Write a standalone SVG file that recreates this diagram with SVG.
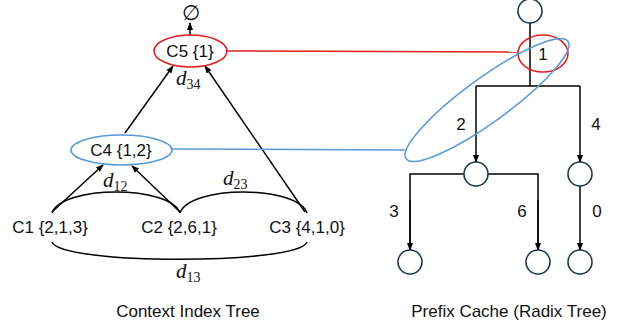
<svg xmlns="http://www.w3.org/2000/svg" width="622" height="326" viewBox="0 0 622 326">
<style>
.t{font-family:"Liberation Sans",Arial,sans-serif;font-size:17px;fill:#111;text-anchor:middle}
.m{font-family:"Liberation Serif","DejaVu Serif",serif;font-style:italic;font-size:21px;fill:#111}
.s{font-size:14px;font-style:normal}
.ln{stroke:#000;stroke-width:1.5;fill:none}
.arr{stroke:#000;stroke-width:1.5;fill:none;marker-end:url(#ah)}
.cir{fill:#fff;stroke:#17394d;stroke-width:1.6}
</style>
<defs>
<marker id="ah" markerUnits="userSpaceOnUse" markerWidth="8" markerHeight="8" viewBox="0 0 8 8" refX="7" refY="4" orient="auto">
<path d="M0,1 L8,4 L0,7 Z" fill="#000"/>
</marker>
</defs>
<rect width="622" height="326" fill="#fff"/>
<g id="connectors">
<line class="arr" x1="190" y1="35" x2="190" y2="23"/>
<line class="arr" x1="125" y1="133" x2="173" y2="66"/>
<line class="arr" x1="305" y1="212" x2="205" y2="66"/>
<line class="arr" x1="52" y1="212" x2="103" y2="165"/>
<line class="arr" x1="180" y1="212" x2="132" y2="166"/>
<path class="ln" d="M52,213 C62,185 170,185 180,213"/>
<path class="ln" d="M180,213 C190,185 297,185 307,213"/>
<path class="ln" d="M52,242 C60,265 299,265 307,242"/>
<line x1="227" y1="51" x2="518" y2="52" stroke="#e31d1d" stroke-width="1.5"/>
<line x1="172" y1="149" x2="405" y2="150" stroke="#5b9bd5" stroke-width="1.5"/>
<line class="ln" x1="530" y1="23" x2="530" y2="86"/>
<polyline class="ln" points="476,86 580,86"/>
<line class="arr" x1="476" y1="86" x2="476" y2="162"/>
<line class="arr" x1="580" y1="86" x2="580" y2="162"/>
<polyline class="ln" points="464,174 410,174 410,250"/>
<line class="arr" x1="410" y1="200" x2="410" y2="250"/>
<polyline class="ln" points="488,174 538,174 538,250"/>
<line class="arr" x1="538" y1="200" x2="538" y2="250"/>
<line class="arr" x1="580" y1="186" x2="580" y2="250"/>
</g>
<g id="C5">
<ellipse cx="190.5" cy="51" rx="36.5" ry="16" fill="#fff" stroke="#e31d1d" stroke-width="1.6"/>
<text class="t" x="190" y="57">C5 {1}</text>
</g>
<g id="C4">
<ellipse cx="121.5" cy="150" rx="50.5" ry="15" fill="#fff" stroke="#5b9bd5" stroke-width="1.6"/>
<text class="t" x="121" y="156">C4 {1,2}</text>
</g>
<g id="C1"><text class="t" x="50" y="233">C1 {2,1,3}</text></g>
<g id="C2"><text class="t" x="179" y="233">C2 {2,6,1}</text></g>
<g id="C3"><text class="t" x="307" y="233">C3 {4,1,0}</text></g>
<g id="empty"><text x="191" y="20" font-family="DejaVu Serif,serif" font-size="21" text-anchor="middle" fill="#111">∅</text></g>
<g id="labels">
<text class="m" x="176" y="85">d<tspan class="s" dy="4">34</tspan></text>
<text class="m" x="103" y="187">d<tspan class="s" dy="4">12</tspan></text>
<text class="m" x="223" y="185">d<tspan class="s" dy="4">23</tspan></text>
<text class="m" x="176" y="278">d<tspan class="s" dy="4">13</tspan></text>
<text class="t" x="188" y="317">Context Index Tree</text>
<text class="t" x="509" y="317">Prefix Cache (Radix Tree)</text>
</g>
<g id="root"><circle class="cir" cx="530" cy="11" r="12"/></g>
<g id="n2"><circle class="cir" cx="476" cy="174" r="12"/></g>
<g id="n4"><circle class="cir" cx="580" cy="174" r="12"/></g>
<g id="n3"><circle class="cir" cx="410" cy="262" r="12"/></g>
<g id="n6"><circle class="cir" cx="538" cy="262" r="12"/></g>
<g id="n0"><circle class="cir" cx="580" cy="262" r="12"/></g>
<g id="edge-labels">
<text class="t" x="543" y="60">1</text>
<text class="t" x="461" y="130">2</text>
<text class="t" x="596" y="130">4</text>
<text class="t" x="394" y="217">3</text>
<text class="t" x="522" y="217">6</text>
<text class="t" x="597" y="217">0</text>
</g>
<g id="hl-red"><ellipse cx="543" cy="53.5" rx="25" ry="18.5" fill="none" stroke="#e31d1d" stroke-width="1.6"/></g>
<g id="hl-blue"><ellipse cx="487" cy="100" rx="100" ry="22" transform="rotate(-36 487 100)" fill="none" stroke="#5b9bd5" stroke-width="1.6"/></g>
</svg>
